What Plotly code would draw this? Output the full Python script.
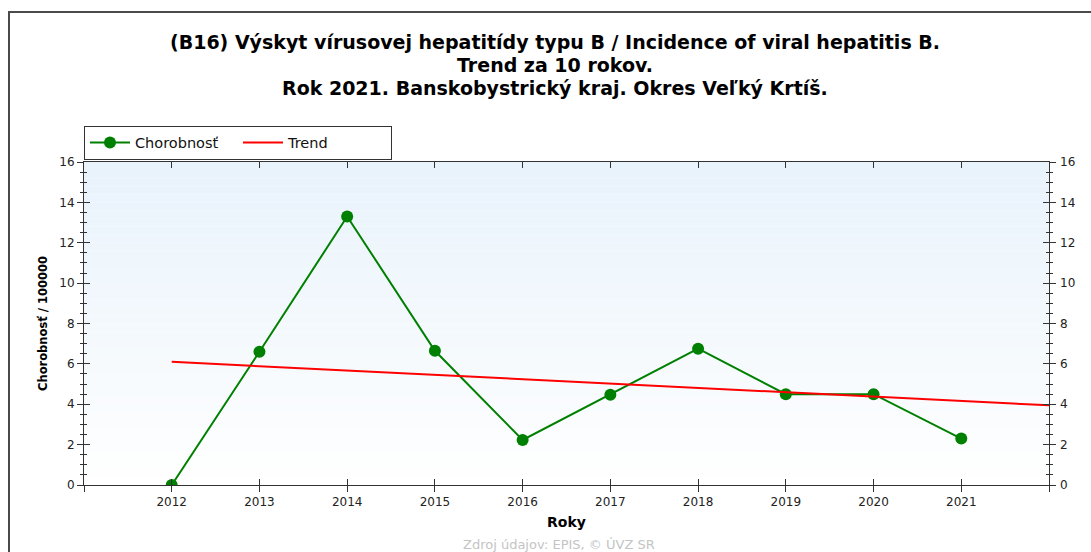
import plotly.graph_objects as go

years = [2012, 2013, 2014, 2015, 2016, 2017, 2018, 2019, 2020, 2021]
incidence = [0.0, 6.6, 13.3, 6.65, 2.23, 4.47, 6.75, 4.5, 4.5, 2.3]
trend_years = [2012, 2022]
trend_values = [6.1, 3.95]
tick_years = [2011, 2012, 2013, 2014, 2015, 2016, 2017, 2018, 2019, 2020, 2021, 2022]
tick_labels = ["", "2012", "2013", "2014", "2015", "2016", "2017", "2018", "2019", "2020", "2021", ""]

title_lines = ["(B16) Výskyt vírusovej hepatitídy typu B / Incidence of viral hepatitis B.",
               "Trend za 10 rokov.",
               "Rok 2021. Banskobystrický kraj. Okres Veľký Krtíš."]
title_y_px = [42, 65, 88]

W, H = 1091, 552
L, R, T, B = 84, 42, 162, 67
pw = W - L - R
ph = H - T - B

FONT = "DejaVu Sans"


def px_x(x):
    return (x - L) / pw


def px_y(y):
    return (H - B - y) / ph


fig = go.Figure()
fig.add_trace(go.Scatter(x=years, y=incidence, name="Chorobnosť", mode="lines+markers",
                         line=dict(color="#008000", width=2),
                         marker=dict(color="#008000", size=12)))
fig.add_trace(go.Scatter(x=trend_years, y=trend_values, name="Trend", mode="lines",
                         line=dict(color="#ff0000", width=2)))
# helper traces so that the extra tick axes are drawn
fig.add_trace(go.Scatter(x=[], y=[], xaxis="x", yaxis="y2", showlegend=False, hoverinfo="skip"))
fig.add_trace(go.Scatter(x=[], y=[], xaxis="x2", yaxis="y3", showlegend=False, hoverinfo="skip"))

# gradient background for plot area
n = 40
for i in range(n):
    t = i / (n - 1)
    r = int(255 + (233 - 255) * t)
    g = int(255 + (243 - 255) * t)
    b = int(255 + (252 - 255) * t)
    fig.add_shape(type="rect", xref="x domain", yref="y domain",
                  x0=0, x1=1, y0=i / n, y1=(i + 1) / n,
                  fillcolor=f"rgb({r},{g},{b})", line=dict(width=0), layer="below")

# outer frame
fig.add_shape(type="rect", xref="paper", yref="paper",
              x0=px_x(9), x1=1.2, y0=-0.5, y1=px_y(12),
              line=dict(color="#4a4a4a", width=2), fillcolor="rgba(0,0,0,0)")

tickfont = dict(family=FONT, size=12, color="#222222")

fig.update_layout(
    width=W, height=H,
    margin=dict(l=L, r=R, t=T, b=B),
    paper_bgcolor="white", plot_bgcolor="rgba(0,0,0,0)",
    font=dict(family=FONT, color="#000000"),
    showlegend=True,
    legend=dict(orientation="h", x=px_x(84), xanchor="left", y=px_y(142.5), yanchor="middle",
                bgcolor="white", bordercolor="#333333", borderwidth=1,
                font=dict(family=FONT, size=14.5, color="#111111"), entrywidth=98, itemwidth=40,
                traceorder="normal"),
    xaxis=dict(range=[2011, 2022], tickvals=tick_years, ticktext=tick_labels,
               ticks="outside", ticklen=6, tickcolor="#333333", showline=True,
               linecolor="#333333", linewidth=1, showgrid=False, zeroline=False,
               tickfont=tickfont,
               title=dict(text="<b>Roky</b>", font=dict(family=FONT, size=14), standoff=8)),
    xaxis2=dict(overlaying="x", matches="x", anchor="y", range=[2011, 2022],
                tickvals=tick_years, ticks="inside", ticklen=6, tickcolor="#333333",
                mirror="ticks", showline=True, linecolor="#333333", linewidth=1,
                showticklabels=False, showgrid=False, zeroline=False),
    yaxis=dict(range=[0, 16], dtick=2, tick0=0, ticks="outside", ticklen=6,
               tickcolor="#333333", showline=True, linecolor="#333333", linewidth=1,
               mirror="ticks", showgrid=False, zeroline=False, tickfont=tickfont,
               minor=dict(dtick=0.5, tick0=0, ticks="outside", ticklen=3,
                          tickcolor="#333333", showgrid=False),
               title=dict(text="<b>Chorobnosť / 100000</b>", font=dict(family=FONT, size=11.5),
                          standoff=9)),
    yaxis2=dict(overlaying="y", matches="y", anchor="x", side="right", range=[0, 16],
                dtick=2, tick0=0, ticks="", showline=False, showgrid=False,
                zeroline=False, tickfont=tickfont, ticklabelstandoff=10),
    yaxis3=dict(overlaying="y", matches="y", anchor="x", range=[0, 16], dtick=2, tick0=0,
                ticks="inside", ticklen=6, tickcolor="#333333", mirror="ticks",
                showline=False, showticklabels=False, showgrid=False, zeroline=False,
                minor=dict(dtick=0.5, tick0=0, ticks="inside", ticklen=3,
                           tickcolor="#333333", showgrid=False)),
)

for line, ypx in zip(title_lines, title_y_px):
    fig.add_annotation(text="<b>" + line + "</b>", xref="paper", yref="paper",
                       x=px_x(555), y=px_y(ypx), xanchor="center", yanchor="middle",
                       showarrow=False, font=dict(family=FONT, size=19, color="#000000"))

fig.add_annotation(text="Zdroj údajov: EPIS, © ÚVZ SR", xref="paper", yref="paper",
                   x=px_x(559), y=px_y(544), xanchor="center", yanchor="middle",
                   showarrow=False, font=dict(family=FONT, size=13, color="#c4c4c4"))

fig.write_html("out.html", config={"displayModeBar": False},
               post_script="document.body.style.margin='0';")
